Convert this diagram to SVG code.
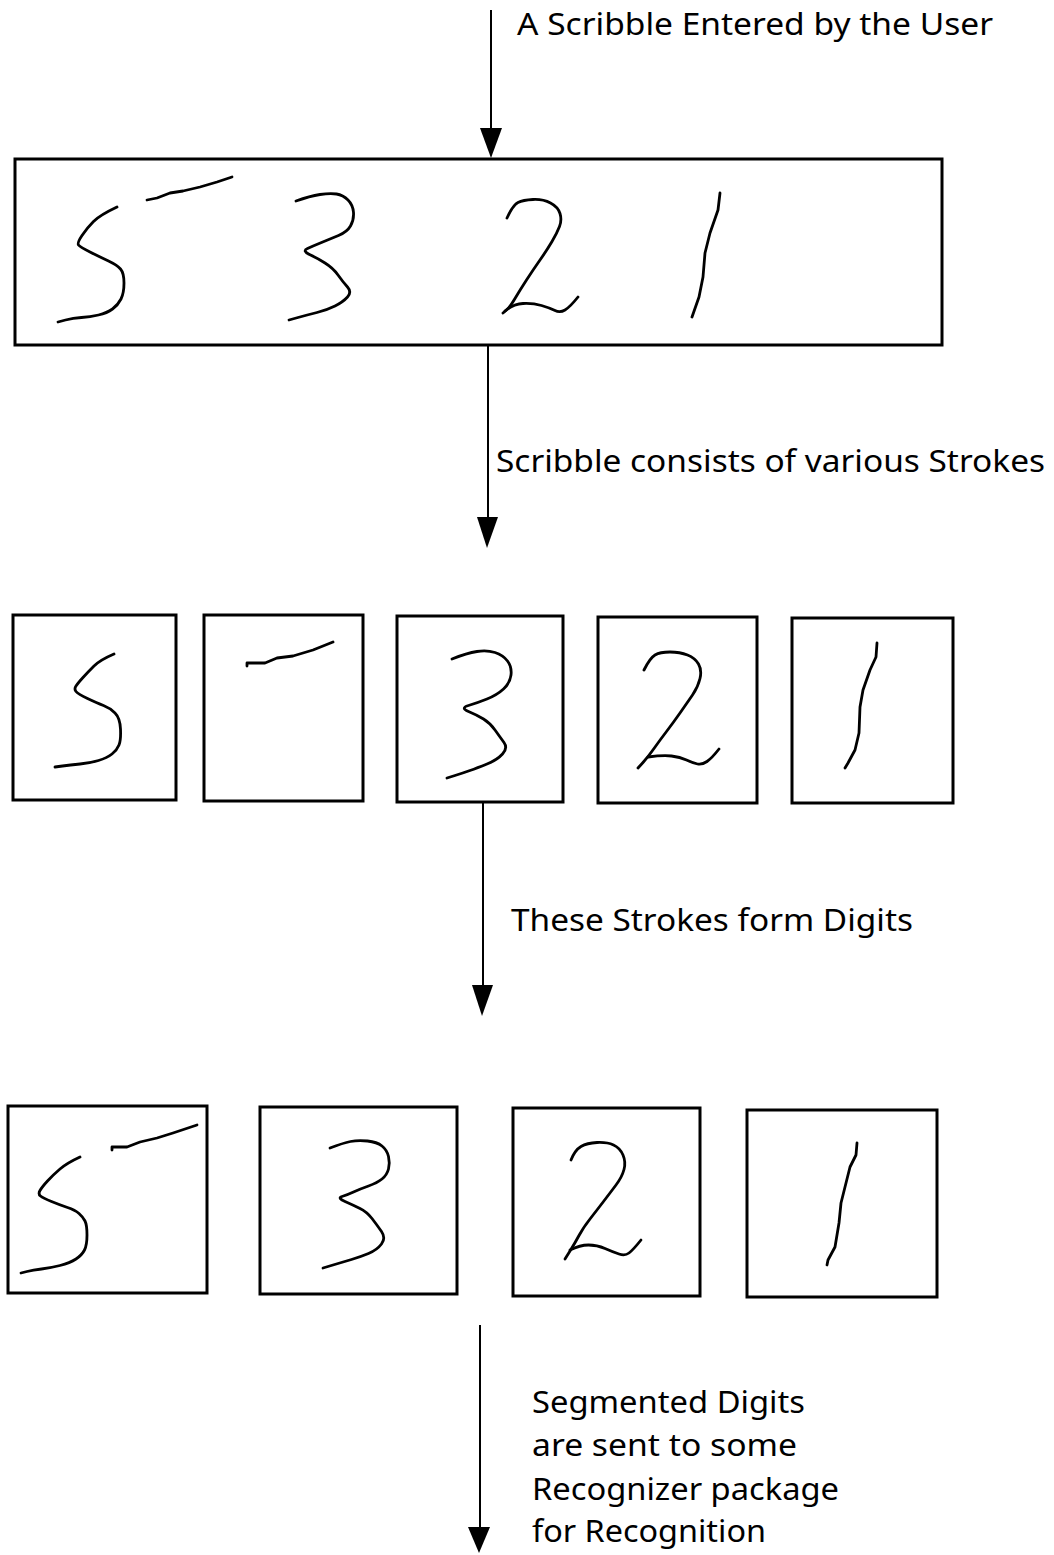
<svg xmlns="http://www.w3.org/2000/svg" width="1054" height="1555" viewBox="0 0 1054 1555">
<defs>
<style>
.box{fill:#fff;stroke:#000;stroke-width:3}
.ink{fill:none;stroke:#000;stroke-width:2.8;stroke-linejoin:round;stroke-linecap:round}
.conn{fill:none;stroke:#000;stroke-width:2}
.head{fill:#000}
.lbl{font-family:"Noto Sans","Open Sans","DejaVu Sans",sans-serif;font-size:30px;fill:#000}
</style>
</defs>
<rect width="1054" height="1555" fill="#fff"/>

<g id="connectors">
<line class="conn" x1="491" y1="10" x2="491" y2="132"/>
<polygon class="head" points="480,128 502,128 491,158"/>
<line class="conn" x1="488" y1="345" x2="488" y2="520"/>
<polygon class="head" points="477,517 498,517 487,548"/>
<line class="conn" x1="483" y1="803" x2="483" y2="988"/>
<polygon class="head" points="472,985 493,985 482,1016"/>
<line class="conn" x1="480" y1="1325" x2="480" y2="1530"/>
<polygon class="head" points="468,1527 490,1527 479,1553"/>
</g>

<g id="labels">
<text class="lbl" x="517" y="35" textLength="476" lengthAdjust="spacingAndGlyphs">A Scribble Entered by the User</text>
<text class="lbl" x="496" y="472" textLength="549" lengthAdjust="spacingAndGlyphs">Scribble consists of various Strokes</text>
<text class="lbl" x="511" y="931" textLength="402" lengthAdjust="spacingAndGlyphs">These Strokes form Digits</text>
<text class="lbl" x="532" y="1413" textLength="273" lengthAdjust="spacingAndGlyphs">Segmented Digits</text>
<text class="lbl" x="532" y="1456" textLength="265" lengthAdjust="spacingAndGlyphs">are sent to some</text>
<text class="lbl" x="532" y="1500" textLength="307" lengthAdjust="spacingAndGlyphs">Recognizer package</text>
<text class="lbl" x="532" y="1542" textLength="234" lengthAdjust="spacingAndGlyphs">for Recognition</text>
</g>

<g id="scribble">
<rect class="box" x="15" y="159" width="927" height="186"/>
<path class="ink" d="M117,207 Q100,215 93.5,221.5 Q87,228 82,235.5 Q77,243 78.5,245 Q80,247 90,252 Q100,257 108.5,261 Q117,265 120.5,269 Q124,273 124,283 Q124,293 121,299 Q118,305 112.5,309 Q107,313 98.5,315 Q90,317 81.5,317.5 Q73,318 65.5,320 L58,322"/>
<polyline class="ink" points="147,200 157,198 170,193 183,191 200,187 217,182 232,177"/>
<path class="ink" d="M296,201 Q310,196 320,194.5 Q330,193 336.5,194 Q343,195 348,200 Q353,205 353.5,212.5 Q354,220 350.5,226 Q347,232 338.5,235.5 Q330,239 321.5,242.5 Q313,246 307.5,248.5 Q302,251 309.5,254.5 Q317,258 325,263 Q333,268 338,275 Q343,282 347.5,287 Q352,292 347.5,297 Q343,302 335,306 Q327,310 317,312.5 Q307,315 298,317.5 L289,320"/>
<path class="ink" d="M507,218 Q513,205 518,202.5 Q523,200 533,199.5 Q543,199 550.5,203 Q558,207 560,213.5 Q562,220 559.5,226.5 Q557,233 552,241.5 Q547,250 540,260 Q533,270 526.5,280 Q520,290 515,298.5 Q510,307 506.5,310 L503,313"/>
<path class="ink" d="M505,311 Q513,304 523,303.5 Q533,303 541.5,305.5 Q550,308 555,310.5 Q560,313 565,310 Q570,307 578,297"/>
<polyline class="ink" points="720,193 718,210 710,233 705,253 703,277 699,297 692,317"/>
</g>

<g id="stroke1">
<rect class="box" x="13" y="615" width="163" height="185"/>
<path class="ink" d="M114,654 Q100,660 94,666 Q88,672 83,677.5 Q78,683 76,686 Q74,689 76,691.5 Q78,694 87.5,698.5 Q97,703 103.5,705.5 Q110,708 115,713 Q120,718 120.5,729 Q121,740 119,745 Q117,750 112,754 Q107,758 98.5,760.5 Q90,763 80,764 Q70,765 62.5,766 L55,767"/>
</g>
<g id="stroke2">
<rect class="box" x="204" y="615" width="159" height="186"/>
<polyline class="ink" points="247,666 247,663 265,663 277,658 293,656 313,650 333,642"/>
</g>
<g id="stroke3">
<rect class="box" x="397" y="616" width="166" height="186"/>
<path class="ink" d="M452,659 Q467,653 477,651.5 Q487,650 495,652.5 Q503,655 507.5,661 Q512,667 511,675 Q510,683 503.5,689 Q497,695 487,699 Q477,703 468.5,705.5 Q460,708 468.5,711.5 Q477,715 483.5,719 Q490,723 495,730 Q500,737 504,742.5 Q508,748 502.5,754 Q497,760 487,764 Q477,768 470,770.5 Q463,773 455,775.5 L447,778"/>
</g>
<g id="stroke4">
<rect class="box" x="598" y="617" width="159" height="186"/>
<path class="ink" d="M644,670 Q650,658 655,655 Q660,652 670,652 Q680,652 687.5,655 Q695,658 698.5,664 Q702,670 700,678.5 Q698,687 692.5,695 Q687,703 680,713 Q673,723 666.5,731.5 Q660,740 654,748.5 Q648,757 643,762.5 L638,768"/>
<path class="ink" d="M648,757 Q663,755 671.5,756 Q680,757 686.5,760 Q693,763 697.5,764 Q702,765 707,761.5 Q712,758 719,749"/>
</g>
<g id="stroke5">
<rect class="box" x="792" y="618" width="161" height="185"/>
<polyline class="ink" points="877,643 876,657 870,670 863,690 860,707 859,733 855,750 848,763 845,768"/>
</g>

<g id="digit5">
<rect class="box" x="8" y="1106" width="199" height="187"/>
<path class="ink" d="M80,1157 Q67,1163 60,1169 Q53,1175 47.5,1181 Q42,1187 40,1190.5 Q38,1194 40.5,1196 Q43,1198 51.5,1201.5 Q60,1205 67.5,1207.5 Q75,1210 79,1213.5 Q83,1217 85,1221 Q87,1225 87,1235 Q87,1245 84.5,1250 Q82,1255 76,1259 Q70,1263 60,1265.5 Q50,1268 41.5,1269 Q33,1270 27,1271.5 L21,1273"/>
<polyline class="ink" points="112,1150 112,1147 127,1147 140,1142 157,1138 173,1133 197,1125"/>
</g>
<g id="digit3">
<rect class="box" x="260" y="1107" width="197" height="187"/>
<path class="ink" d="M330,1148 Q343,1143 350.5,1141.5 Q358,1140 367.5,1141 Q377,1142 382,1146 Q387,1150 388.5,1156.5 Q390,1163 388.5,1169 Q387,1175 382,1179 Q377,1183 368.5,1186 Q360,1189 353.5,1192 Q347,1195 342,1196.5 Q337,1198 345,1201.5 Q353,1205 360,1208.5 Q367,1212 372,1218.5 Q377,1225 381.5,1231.5 Q386,1238 381.5,1244 Q377,1250 368.5,1253.5 Q360,1257 351.5,1259.5 Q343,1262 333,1265 L323,1268"/>
</g>
<g id="digit2">
<rect class="box" x="513" y="1108" width="187" height="188"/>
<path class="ink" d="M571,1160 Q575,1150 581,1146.5 Q587,1143 597,1142.5 Q607,1142 613.5,1145 Q620,1148 623,1155 Q626,1162 624,1169.5 Q622,1177 616,1185 Q610,1193 603.5,1201.5 Q597,1210 590,1219 Q583,1228 579,1235.5 Q575,1243 570,1251 L565,1259"/>
<path class="ink" d="M570,1250 Q580,1245 588.5,1245 Q597,1245 605,1248.5 Q613,1252 619,1254 Q625,1256 629,1253 Q633,1250 641,1240"/>
</g>
<g id="digit1">
<rect class="box" x="747" y="1110" width="190" height="187"/>
<polyline class="ink" points="857,1143 856,1155 850,1167 845,1187 841,1203 839,1223 835,1247 828,1260 827,1265"/>
</g>
</svg>
